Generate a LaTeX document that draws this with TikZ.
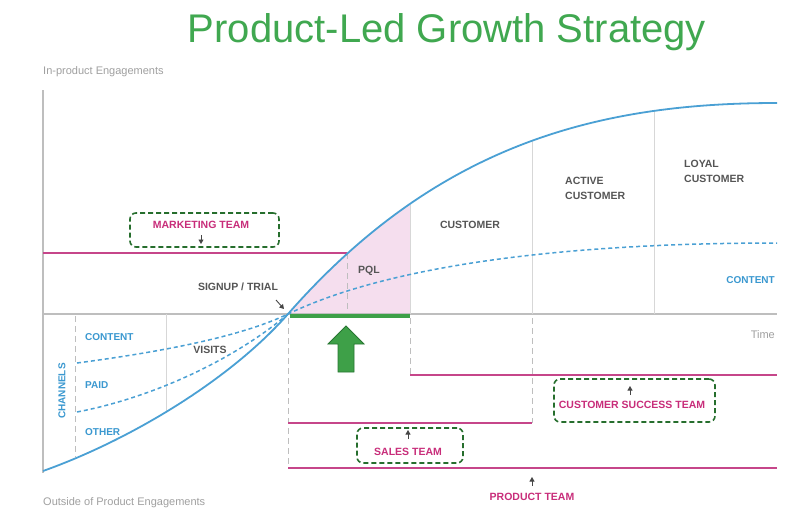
\documentclass[tikz,border=0pt]{standalone}
\usepackage{fontspec}
\setmainfont{Liberation Sans}
\usetikzlibrary{arrows.meta}
\definecolor{titlegreenc}{RGB}{64,168,80}
\definecolor{bluec}{RGB}{74,160,212}
\definecolor{bluetxtc}{RGB}{58,152,208}
\definecolor{maglinec}{RGB}{198,70,138}
\definecolor{magtxtc}{RGB}{200,45,122}
\definecolor{pinkc}{RGB}{245,222,238}
\definecolor{greenc}{RGB}{62,160,72}
\definecolor{darkgreenc}{RGB}{40,118,50}
\definecolor{boxgreenc}{RGB}{38,110,45}
\definecolor{txtgrayc}{RGB}{85,85,85}
\definecolor{axisgrayc}{RGB}{190,190,190}
\definecolor{vlinegrayc}{RGB}{215,215,215}
\definecolor{lighttxtc}{RGB}{160,160,160}
\definecolor{arrgrayc}{RGB}{70,70,70}
\begin{document}
\begin{tikzpicture}[x=1pt,y=-1pt,
  lbl/.style={inner sep=0pt, font=\bfseries\fontsize{10.5}{12.5}\selectfont},
  graylbl/.style={lbl, text=txtgrayc},
  bluelbl/.style={inner sep=0pt, font=\bfseries\fontsize{10}{12}\selectfont, text=bluetxtc},
  maglbl/.style={lbl, text=magtxtc},
  axislbl/.style={inner sep=0pt, font=\fontsize{11}{13}\selectfont, text=lighttxtc},
  teambox/.style={draw=boxgreenc, dash pattern=on 5pt off 3pt, line width=1.6pt, rounded corners=6pt, inner sep=0pt},
  tick/.style={-{Triangle[width=5pt,length=4.5pt]}, draw=arrgrayc, line width=0.9pt},
  magline/.style={draw=maglinec, line width=1.6pt},
  axisline/.style={draw=axisgrayc, line width=1.2pt},
  vline/.style={draw=vlinegrayc, line width=0.8pt},
  dashvline/.style={draw=axisgrayc, line width=1pt, dash pattern=on 6pt off 4pt},
  bluedash/.style={draw=bluec, line width=1.5pt, dash pattern=on 4pt off 3pt},
  bluecurve/.style={draw=bluec, line width=1.8pt}
]
\useasboundingbox (0,0) rectangle (800,517);
\fill[white] (0,0) rectangle (800,517);

% coordinates
\coordinate (yTop) at (43,90);
\coordinate (yBot) at (43,473);
\coordinate (xL) at (43,314);
\coordinate (xR) at (777,314);
\coordinate (cStart) at (43,471);
\coordinate (signup) at (288,314);
\coordinate (cEnd) at (777,103);

% pink PQL area
\begin{scope}
  \clip (288,90) rectangle (410,314);
  \fill[pinkc] (cStart) .. controls (130,440) and (230,380) .. (signup)
     .. controls (438,143) and (600,103) .. (cEnd) -- (777,314) -- (xL) -- cycle;
\end{scope}

% axes
\draw[axisline] (yTop) -- (yBot);
\draw[axisline] (xL) -- (xR);

% vertical stage lines
\draw[vline] (532,141) -- (532,314);
\draw[vline] (654,111) -- (654,314);
\draw[vline] (410,205) -- (410,314);
\draw[vline] (166,314) -- (166,411);
\draw[dashvline] (75,316) -- (75,457);
\draw[dashvline] (347,253) -- (347,314);
\draw[dashvline] (288,318) -- (288,468);
\draw[dashvline] (410,318) -- (410,375);
\draw[dashvline] (532,318) -- (532,423);

% team lines
\coordinate (mktL) at (43,253);
\coordinate (mktR) at (347,253);
\coordinate (csL) at (410,375);
\coordinate (csR) at (777,375);
\coordinate (salesL) at (288,423);
\coordinate (salesR) at (532,423);
\coordinate (prodL) at (288,468);
\coordinate (prodR) at (777,468);
\draw[magline] (mktL) -- (mktR);
\draw[magline] (csL) -- (csR);
\draw[magline] (salesL) -- (salesR);
\draw[magline] (prodL) -- (prodR);

% dashed channel curves
\coordinate (contentStart) at (77,363);
\coordinate (contentEnd) at (777,243);
\coordinate (paidStart) at (77,412);
\draw[bluedash] (contentStart) .. controls (160,352) and (240,337) .. (signup)
   .. controls (388,266) and (560,243) .. (contentEnd);
\draw[bluedash] (paidStart) .. controls (160,396) and (240,355) .. (signup);

% main curve
\draw[bluecurve] (cStart) .. controls (130,440) and (230,380) .. (signup)
   .. controls (438,143) and (600,103) .. (cEnd);

% green PQL bar and arrow
\coordinate (pqlL) at (290,316);
\coordinate (pqlR) at (410,316);
\draw[draw=greenc, line width=4.5pt] (pqlL) -- (pqlR);
\draw[fill=greenc, draw=darkgreenc, line width=0.8pt] (338,372) -- (338,344) -- (328,344) -- (346,326) -- (364,344) -- (354,344) -- (354,372) -- cycle;

% title and axis labels
\node[inner sep=0pt, font=\fontsize{40}{44}\selectfont, text=titlegreenc] (title) at (447,32) {Product-Led Growth Strategy};
\node[axislbl, anchor=west] (inprod) at (43,72) {In-product Engagements};
\node[axislbl, anchor=west] (outprod) at (43,503) {Outside of Product Engagements};
\node[axislbl, anchor=east] (time) at (775,335) {Time};

% stage labels
\node[graylbl] (signuplbl) at (238,287) {SIGNUP / TRIAL};
\node[graylbl] (pql) at (369,271) {PQL};
\node[graylbl] (customer) at (470,225) {CUSTOMER};
\node[graylbl, anchor=west, align=left, font=\bfseries\fontsize{10.5}{15}\selectfont] (active) at (565,188.5) {ACTIVE\\CUSTOMER};
\node[graylbl, anchor=west, align=left, font=\bfseries\fontsize{10.5}{15}\selectfont] (loyal) at (684,171.5) {LOYAL\\CUSTOMER};
\node[graylbl] (visits) at (210,350) {VISITS};
\node[bluelbl, anchor=east] (contentR) at (775,280) {CONTENT};
\node[bluelbl, anchor=west] (contentL) at (85,337) {CONTENT};
\node[bluelbl, anchor=west] (paid) at (85,385) {PAID};
\node[bluelbl, anchor=west] (other) at (85,432) {OTHER};
\node[bluelbl, rotate=90] (channels) at (62,391) {CHANNELS};

\coordinate (suA) at (276,300);
\coordinate (suB) at (284,309);
\draw[tick] (suA) -- (suB);

% team boxes
\node[teambox, minimum width=149pt, minimum height=34pt] (mktbox) at (204.5,230) {};
\node[maglbl] (mkt) at (201,225) {MARKETING TEAM};
\coordinate (mktA) at (201,235);
\coordinate (mktB) at (201,244);
\draw[tick] (mktA) -- (mktB);

\node[teambox, minimum width=106pt, minimum height=35pt] (salesbox) at (410,445.5) {};
\node[maglbl] (sales) at (408,452) {SALES TEAM};
\coordinate (salesA) at (408,439);
\coordinate (salesB) at (408,430);
\draw[tick] (salesA) -- (salesB);

\node[teambox, minimum width=161pt, minimum height=43pt] (csbox) at (634.5,400.5) {};
\node[maglbl] (cs) at (632,405) {CUSTOMER SUCCESS TEAM};
\coordinate (csA) at (630,395);
\coordinate (csB) at (630,386);
\draw[tick] (csA) -- (csB);

\node[maglbl] (prod) at (532,497) {PRODUCT TEAM};
\coordinate (prodA) at (532,486);
\coordinate (prodB) at (532,477);
\draw[tick] (prodA) -- (prodB);
\end{tikzpicture}
\end{document}
